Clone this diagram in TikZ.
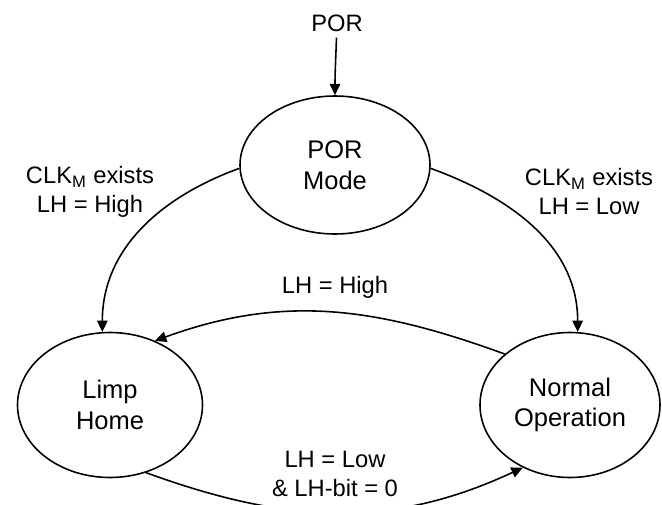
\documentclass[tikz,border=0pt]{standalone}
\usepackage{fontspec}
\setmainfont{Liberation Sans}
\usetikzlibrary{arrows.meta, positioning, shapes.geometric}

\begin{document}
\begin{tikzpicture}[
    >={Triangle[length=6.5pt, width=6pt]},
    state/.style={draw, ellipse, line width=0.9pt, align=center,
                  font=\fontsize{14.5}{17.5}\selectfont},
    lbl/.style={align=center, font=\fontsize{13.5}{16.5}\selectfont},
    trans/.style={->, line width=0.9pt}
  ]
  \useasboundingbox (0,0) rectangle (13.24,-10.1);

  % States
  \node[lbl] (por) at (6.74, -0.46) {POR};
  \node[state, minimum width=3.8cm, minimum height=2.76cm] (pormode) at (6.7, -3.3) {POR\\Mode};
  \node[state, minimum width=3.7cm, minimum height=2.9cm] (limp) at (2.2, -8.1) {Limp\\Home};
  \node[state, minimum width=3.6cm, minimum height=2.9cm] (normal) at (11.4, -8.1) {Normal\\Operation};

  % Labels
  \node[lbl] (lblhigh) at (1.8, -3.84) {CLK\textsubscript{M} exists\\LH = High};
  \node[lbl] (lbllow) at (11.78, -3.84) {CLK\textsubscript{M} exists\\LH = Low};
  \node[lbl] (lblback) at (6.7, -5.74) {LH = High};
  \node[lbl] (lblbit) at (6.7, -9.48) {LH = Low\\\& LH-bit = 0};

  % Transitions
  \draw[trans] (por) to[out=-92, in=90] (pormode);
  \draw[trans] (pormode.182) to[out=200, in=90] (limp.96);
  \draw[trans] (pormode.-2) to[out=-20, in=90] (normal.84);
  \draw[trans] (normal.142) to[out=160, in=20] (limp.55);
  \draw[trans] (limp.-62) to[out=-20, in=205] (normal.-127);
\end{tikzpicture}
\end{document}
